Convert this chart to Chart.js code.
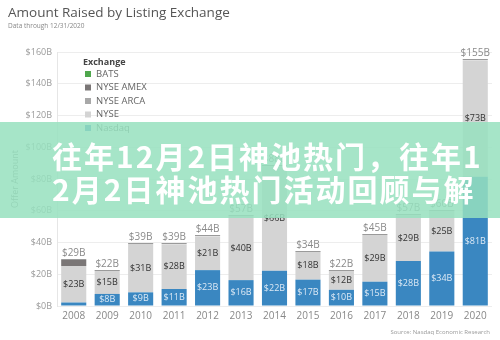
<!DOCTYPE html>
<html>
<head>
<meta charset="utf-8">
<script src="https://cdn.jsdelivr.net/npm/chart.js@4"></script>
<style>
  html, body { margin: 0; padding: 0; background: #fff; }
  #wrap { position: relative; width: 500px; height: 340px; overflow: hidden; }
  #banner {
    position: absolute; left: 0; top: 122px; width: 500px; height: 96px;
    background: rgba(150, 224, 190, 0.85);
    color: #fff; font-family: "Noto Sans CJK SC", sans-serif; font-weight: 700;
    font-size: 30px; line-height: 33px; letter-spacing: 2px;
    box-sizing: border-box; padding: 17px 0 0 52px; white-space: nowrap;
  }
</style>
</head>
<body>
<div id="wrap">
  <canvas id="chart" width="500" height="340"></canvas>
  <div id="banner">往年12月2日神池热门，往年1<br>2月2日神池热门活动回顾与解</div>
</div>
<script>
const years = ["2008", "2009", "2010", "2011", "2012", "2013", "2014", "2015", "2016", "2017", "2018", "2019", "2020"];
const nasdaq = [2.2, 7.6, 8.6, 10.7, 22.6, 16.3, 22.2, 16.6, 10.2, 15.3, 28.3, 34.4, 81.4];
const nyse = [23.0, 14.6, 30.5, 28.2, 21.3, 40.4, 65.8, 17.6, 11.9, 29.4, 28.8, 25.4, 73.4];
const nyseArca = [0, 0, 0, 0, 0, 0, 0, 0, 0, 0, 0, 0, 0];
const nyseAmex = [3.8, 0, 0, 0, 0, 0, 0, 0, 0, 0, 0, 0, 0];
const bats = [0, 0, 0, 0, 0, 0, 0, 0, 0, 0, 0, 0, 0];
const yTicks = [0, 20, 40, 60, 80, 100, 120, 140, 160];

const FONT = "'Open Sans', sans-serif";
const fmt = v => "$" + Math.round(v) + "B";

// legend order as in the picture
const legendItems = [
  { label: "BATS", color: "#4fa74d" },
  { label: "NYSE AMEX", color: "#7a7676" },
  { label: "NYSE ARCA", color: "#a8a8a8" },
  { label: "NYSE", color: "#d4d4d4" },
  { label: "Nasdaq", color: "#3a87c1" }
];

const extras = {
  id: "extras",
  afterDatasetsDraw(chart) {
    const { ctx, scales } = chart;
    const x = scales.x, y = scales.y;
    ctx.save();
    ctx.textAlign = "center";
    ctx.textBaseline = "middle";

    // labels inside segments
    chart.data.datasets.forEach((ds, di) => {
      const meta = chart.getDatasetMeta(di);
      meta.data.forEach((bar, i) => {
        const v = ds.data[i];
        if (v < 7) return;
        ctx.font = "9px " + FONT;
        ctx.fillStyle = ds.labelColor;
        ctx.fillText(fmt(v), bar.x, (bar.y + bar.base) / 2);
      });
    });

    // totals with a top line
    const w = chart.getDatasetMeta(0).data[0].width;
    years.forEach((yr, i) => {
      const total = nasdaq[i] + nyse[i] + nyseArca[i] + nyseAmex[i] + bats[i];
      const cx = x.getPixelForValue(i);
      const top = y.getPixelForValue(total);
      ctx.fillStyle = "#9a9a9a";
      ctx.fillRect(cx - w / 2, Math.round(top) - 1, w, 1);
      ctx.font = "10px " + FONT;
      ctx.fillStyle = "#8a8a8a";
      ctx.fillText(fmt(total), cx, top - 7);
    });

    // legend
    ctx.textAlign = "left";
    ctx.font = "bold 9px " + FONT;
    ctx.fillStyle = "#444";
    ctx.fillText("Exchange", 83, 62);
    legendItems.forEach((it, k) => {
      const cy = 74 + k * 13.5;
      ctx.fillStyle = it.color;
      ctx.fillRect(85, cy - 3, 6, 6);
      ctx.font = "9.5px " + FONT;
      ctx.fillStyle = "#666";
      ctx.fillText(it.label, 96, cy);
    });

    // source note
    ctx.textAlign = "right";
    ctx.font = "6px " + FONT;
    ctx.fillStyle = "#9a9a9a";
    ctx.fillText("Source: Nasdaq Economic Research", 490, 332);
    ctx.restore();
  }
};

new Chart(document.getElementById("chart"), {
  type: "bar",
  data: {
    labels: years,
    datasets: [
      { label: "Nasdaq", data: nasdaq, backgroundColor: "#3a87c1", labelColor: "#dce9f5" },
      { label: "NYSE", data: nyse, backgroundColor: "#d4d4d4", labelColor: "#333" },
      { label: "NYSE ARCA", data: nyseArca, backgroundColor: "#a8a8a8", labelColor: "#333" },
      { label: "NYSE AMEX", data: nyseAmex, backgroundColor: "#7a7676", labelColor: "#fff" },
      { label: "BATS", data: bats, backgroundColor: "#4fa74d", labelColor: "#fff" }
    ]
  },
  options: {
    responsive: false,
    animation: false,
    barPercentage: 0.75,
    categoryPercentage: 1,
    layout: { padding: { left: 8, right: 8, top: 0, bottom: 14 } },
    scales: {
      x: {
        stacked: true,
        grid: { display: false, drawTicks: false },
        border: { display: false },
        ticks: { color: "#888", font: { family: FONT, size: 10 }, padding: 4 }
      },
      y: {
        stacked: true,
        min: 0,
        max: 160,
        afterBuildTicks: s => { s.ticks = yTicks.map(v => ({ value: v })); },
        afterFit: s => { s.width = 49; },
        grid: { color: "#ededed", drawTicks: false },
        border: { color: "#e6e6e6" },
        ticks: { color: "#9a9a9a", font: { family: FONT, size: 9 }, padding: 5, callback: v => "$" + v + "B" },
        title: { display: true, text: "Offer Amount", color: "#8a8a8a", font: { family: FONT, size: 9 }, padding: { top: 2, bottom: 0 } }
      }
    },
    plugins: {
      legend: { display: false },
      tooltip: { enabled: false },
      title: {
        display: true, text: "Amount Raised by Listing Exchange", align: "start",
        color: "#555", font: { family: FONT, size: 13.5, weight: "normal" }, padding: { top: 5, bottom: 1 }
      },
      subtitle: {
        display: true, text: "Data through 12/31/2020", align: "start",
        color: "#888", font: { family: FONT, size: 6.5 }, padding: { top: 0, bottom: 22 }
      }
    }
  },
  plugins: [extras]
});
</script>
</body>
</html>
